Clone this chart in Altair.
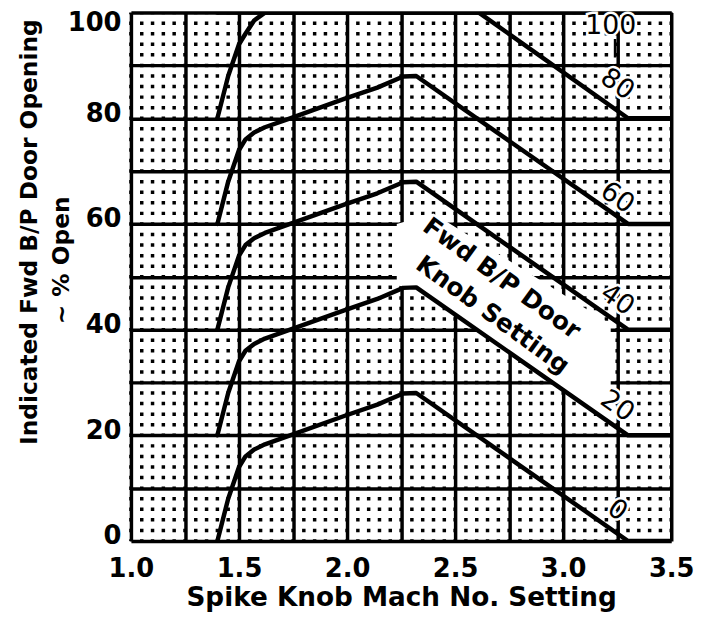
import altair as alt
import pandas as pd

# ---- data ----
mach_base = [1.40, 1.45, 1.50, 1.53, 1.57, 1.62, 1.73, 1.99, 2.14, 2.26, 2.32, 3.30, 3.50]
open_0 = [0, 8, 14, 16, 17.3, 18.3, 19.9, 23.7, 25.8, 27.9, 28, 0, 0]
open_20 = [20, 28, 34, 36, 37.3, 38.3, 39.9, 43.7, 45.8, 47.9, 48, 20, 20]
open_40 = [40, 48, 54, 56, 57.3, 58.3, 59.9, 63.7, 65.8, 67.9, 68, 40, 40]
open_60 = [60, 68, 74, 76, 77.3, 78.3, 79.9, 83.7, 85.8, 87.9, 88, 60, 60]
mach_80 = [1.40, 1.45, 1.50, 1.53, 1.57, 1.62, 2.61, 3.30, 3.50]
open_80 = [80, 88, 94, 96, 98.5, 100, 100, 80, 80]
mach_100 = [1.40, 3.50]
open_100 = [100, 100]

label_text = ["80", "60", "40", "20", "0"]
label_mach = [3.25, 3.25, 3.25, 3.25, 3.25]
label_open = [86.4, 64.9, 45.6, 25.5, 5.8]

top_label = ["100"]
top_label_mach = [3.22]
top_label_open = [97.4]
leader_mach = [3.24]
leader_lo = [91.5]
leader_hi = [95.0]

door_lines = ["Fwd B/P Door", "Knob Setting"]
door_mach = [2.716, 2.674]
door_open = [49.7, 42.8]

band_mach = [2.23, 2.40, 3.22]
band_low = [48.5, 46.0, 22.0]
band_high = [60.0, 62.0, 41.0]

y_title_1 = "Indicated Fwd B/P Door Opening"
y_title_2 = ["~ % Open"]

x_major = [1.0, 1.25, 1.5, 1.75, 2.0, 2.25, 2.5, 2.75, 3.0, 3.25, 3.5]
y_major = [0, 10, 20, 30, 40, 50, 60, 70, 80, 90, 100]
x_minor = [round(1.0 + 0.05 * i, 2) for i in range(51)]

FONT = "DejaVu Sans"

# ---- tables ----
rows = []
for name, xs, ys in [("0", mach_base, open_0), ("20", mach_base, open_20),
                     ("40", mach_base, open_40), ("60", mach_base, open_60),
                     ("80", mach_80, open_80), ("100", mach_100, open_100)]:
    for a, b in zip(xs, ys):
        rows.append({"setting": name, "mach": a, "open": b})
curves = pd.DataFrame(rows)
labels = pd.DataFrame({"t": label_text, "mach": label_mach, "open": label_open})
toplab = pd.DataFrame({"t": top_label, "mach": top_label_mach, "open": top_label_open})
leader = pd.DataFrame({"mach": leader_mach, "open": leader_lo, "open2": leader_hi})
door = pd.DataFrame({"t": door_lines, "mach": door_mach, "open": door_open})
band = pd.DataFrame({"mach": band_mach, "open": band_low, "open2": band_high})
minor = pd.DataFrame({"mach": x_minor})
ytitle2 = pd.DataFrame({"t": y_title_2})

xscale = alt.Scale(domain=[1.0, 3.5], nice=False, zero=False)
yscale = alt.Scale(domain=[0, 100], nice=False)

xaxis = alt.Axis(
    values=x_major,
    labelExpr="(datum.value * 2) % 1 == 0 ? format(datum.value, '.1f') : ''",
    ticks=False, domain=False, grid=True, gridColor="black", gridWidth=3.5,
    labelFont=FONT, labelFontSize=26, labelFontWeight="bold", labelColor="black",
    labelPadding=15, labelFlush=False, labelOverlap=False,
    title="Spike Knob Mach No. Setting", titleFont=FONT, titleFontSize=26.5,
    titleFontWeight="bold", titleColor="black", titlePadding=3,
)
yaxis = alt.Axis(
    values=y_major,
    labelExpr="datum.value % 20 == 0 ? datum.value : ''",
    ticks=False, domain=False, grid=True, gridColor="black", gridWidth=3.5,
    labelFont=FONT, labelFontSize=26, labelFontWeight="bold", labelColor="black",
    labelPadding=10, labelFlush=False, labelOverlap=False,
    labelOffset={"condition": {"test": "datum.value == 100", "value": 10}, "value": -5},
    title=y_title_1,
    titleFont=FONT, titleFontSize=23.5, titleFontWeight="bold", titleColor="black",
    titleAngle=-90, titleAlign="center", titleBaseline="middle",
    titleX=-102, titleY=221,
)

def X(field="mach"):
    return alt.X(f"{field}:Q", scale=xscale, axis=xaxis)

def Y(field="open"):
    return alt.Y(f"{field}:Q", scale=yscale, axis=yaxis)

dots = alt.Chart(minor).mark_rule(
    color="black", strokeWidth=3.5, strokeDash=[3.5, 7.16], strokeDashOffset=1.75
).encode(x=X())

band_layer = alt.Chart(band).mark_area(color="white", opacity=1).encode(
    x=X(), y=Y(), y2="open2:Q"
)

lines = alt.Chart(curves).mark_line(
    color="black", strokeWidth=4.5, strokeJoin="round", strokeCap="round", clip=True
).encode(x=X(), y=Y(), detail="setting:N")

halo = alt.Chart(labels).mark_text(
    font=FONT, fontSize=27, angle=35, stroke="white", strokeWidth=5, color="white"
).encode(x=X(), y=Y(), text="t:N")
lab = alt.Chart(labels).mark_text(
    font=FONT, fontSize=27, angle=35, color="black"
).encode(x=X(), y=Y(), text="t:N")

top_halo = alt.Chart(toplab).mark_text(
    font=FONT, fontSize=27, stroke="white", strokeWidth=5, color="white"
).encode(x=X(), y=Y(), text="t:N")
top_text = alt.Chart(toplab).mark_text(
    font=FONT, fontSize=27, color="black"
).encode(x=X(), y=Y(), text="t:N")
lead = alt.Chart(leader).mark_rule(color="black", strokeWidth=2.5).encode(
    x=X(), y=Y(), y2="open2:Q"
)

door_text = alt.Chart(door).mark_text(
    font=FONT, fontSize=25, fontWeight="bold", angle=36, color="black"
).encode(x=X(), y=Y(), text="t:N")

title2 = alt.Chart(ytitle2).mark_text(
    font=FONT, fontSize=23.5, fontWeight="bold", angle=270, color="black",
    align="center", baseline="middle",
).encode(x=alt.value(-69), y=alt.value(250), text="t:N")

chart = alt.layer(
    dots, band_layer, lines, halo, lab, top_halo, top_text, lead, door_text, title2
).properties(
    width=545, height=533,
    autosize=alt.AutoSizeParams(type="none"),
    padding={"left": 124, "top": 2, "right": 28, "bottom": 69},
).configure_view(
    stroke="black", strokeWidth=5
).configure(background="white")

chart.save("out.html", embed_options={"renderer": "svg", "actions": False})
